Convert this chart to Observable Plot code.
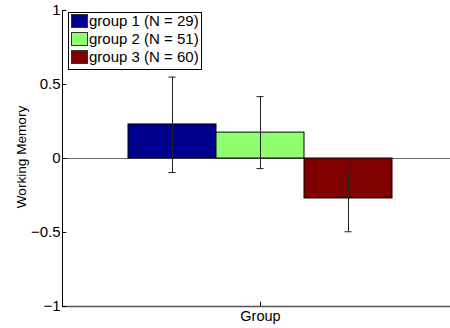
<!DOCTYPE html>
<html>
<head>
<meta charset="utf-8">
<script src="https://cdn.jsdelivr.net/npm/d3@7"></script>
<script src="https://cdn.jsdelivr.net/npm/@observablehq/plot@0.6"></script>
<style>
  html, body { margin: 0; padding: 0; background: #fff; overflow: hidden; }
  #wrap { position: relative; width: 450px; height: 328px; overflow: hidden; font-family: "Liberation Sans", Arial, sans-serif; }
  #wrap svg text { font-family: "Liberation Sans", Arial, sans-serif; }
  #legend { position: absolute; left: 68px; top: 12px; width: 132px; height: 56px; border: 1px solid #000; background: #fff; font-size: 15px; }
  .row { position: absolute; left: 2px; height: 14px; display: flex; align-items: center; white-space: nowrap; line-height: 14px; }
  .sw { width: 15px; height: 12px; border: 1px solid #333; margin-right: 1px; flex: none; }
  #ylabel { position: absolute; left: 21px; top: 157px; transform: translate(-50%, -50%) rotate(-90deg); font-size: 13.6px; white-space: nowrap; color: #000; }
</style>
</head>
<body>
<div id="wrap"><div id="legend"></div><div id="ylabel"></div></div>
<script>
const groups = ["group 1 (N = 29)", "group 2 (N = 51)", "group 3 (N = 60)"];
const means = [0.23, 0.175, -0.27];
const errLow = [-0.095, -0.068, -0.495];
const errHigh = [0.55, 0.418, -0.048];
const colors = ["#00008F", "#8FFF70", "#800000"];
const yTicks = [-1, -0.5, 0, 0.5, 1];
const xLabel = "Group";
const yLabel = "Working Memory";

const barW = 2 / 9; // MATLAB grouped bar width (group width 2/3 split in 3)
const data = groups.map((g, i) => ({
  g, mean: means[i], lo: errLow[i], hi: errHigh[i], color: colors[i],
  xc: 1 + (i - 1) * barW
}));
const capHalf = 0.009;
const tickLenX = 0.011;
const tickLenY = 0.028;
const fmt = d => (d < 0 ? "\u2212" + Math.abs(d) : String(d));

const chart = Plot.plot({
  width: 450,
  height: 328,
  marginLeft: 62, marginRight: 0, marginTop: 10, marginBottom: 22,
  style: "font-family: 'Liberation Sans', Arial, sans-serif; font-size: 15px; background: transparent; overflow: hidden;",
  x: { domain: [0.5, 1.5], range: [62, 458] },
  y: { domain: [-1, 1], range: [306, 10] },
  color: { type: "identity" },
  marks: [
    Plot.ruleY([0], { x1: 0.5, x2: 1.5, stroke: "#666", strokeWidth: 1 }),
    Plot.rectY(data, { x1: d => d.xc - barW / 2, x2: d => d.xc + barW / 2, y1: 0, y2: "mean", fill: "color", stroke: "#000", strokeWidth: 1 }),
    Plot.ruleX(data, { x: "xc", y1: "lo", y2: "hi", stroke: "#222", strokeWidth: 1 }),
    Plot.ruleY(data, { y: "lo", x1: d => d.xc - capHalf, x2: d => d.xc + capHalf, stroke: "#222", strokeWidth: 1 }),
    Plot.ruleY(data, { y: "hi", x1: d => d.xc - capHalf, x2: d => d.xc + capHalf, stroke: "#222", strokeWidth: 1 }),
    Plot.ruleX([0.5], { y1: -1, y2: 1, stroke: "#000", strokeWidth: 1 }),
    Plot.ruleY([-1], { x1: 0.5, x2: 1.5, stroke: "#555", strokeWidth: 1.6 }),
    Plot.ruleY(yTicks, { x1: 0.5, x2: 0.5 + tickLenX, stroke: "#000" }),
    Plot.ruleX([1], { y1: -1, y2: -1 + tickLenY, stroke: "#000" }),
    Plot.axisY({ ticks: yTicks, tickSize: 0, tickPadding: 2, tickFormat: fmt, label: null, fontSize: 15, fill: "#000" }),
    Plot.axisX({ ticks: [1], tickSize: 0, tickPadding: 4, tickFormat: () => xLabel, label: null, fontSize: 14.5, fill: "#000" })
  ]
});
document.getElementById("wrap").prepend(chart);

document.getElementById("ylabel").textContent = yLabel;

const legend = document.getElementById("legend");
groups.forEach((g, i) => {
  const row = document.createElement("div");
  row.className = "row";
  row.style.top = (1 + i * 18) + "px";
  const sw = document.createElement("div");
  sw.className = "sw";
  sw.style.background = colors[i];
  const t = document.createElement("span");
  t.textContent = g;
  row.appendChild(sw);
  row.appendChild(t);
  legend.appendChild(row);
});
</script>
</body>
</html>
